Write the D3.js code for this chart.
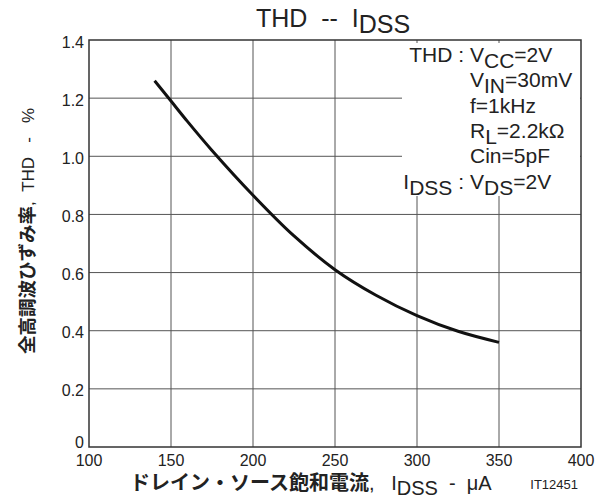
<!DOCTYPE html>
<html>
<head>
<meta charset="utf-8">
<script src="https://cdn.jsdelivr.net/npm/d3@7"></script>
<style>
body { margin: 0; background: #fff; }
svg text { font-family: "Liberation Sans", Arial, sans-serif; fill: #222; }
.jp { font-family: "Noto Sans CJK JP", sans-serif; font-weight: bold; }
</style>
</head>
<body>
<div id="chart"></div>
<script>
// 読み取った値
var idss = [140, 150, 160, 175, 200, 225, 250, 275, 300, 325, 350];
var thd  = [1.26, 1.19, 1.12, 1.02, 0.866, 0.726, 0.61, 0.522, 0.452, 0.398, 0.36];
var xTicks = [100, 150, 200, 250, 300, 350, 400];
var yTicks = [0, 0.2, 0.4, 0.6, 0.8, 1.0, 1.2, 1.4];
var yTickLabels = ["0", "0.2", "0.4", "0.6", "0.8", "1.0", "1.2", "1.4"];

var W = 604, H = 499;
var m = {left: 89, top: 40, right: 23, bottom: 52};
var w = W - m.left - m.right, h = H - m.top - m.bottom;

var svg = d3.select("#chart").append("svg")
	.attr("width", W).attr("height", H);

var x = d3.scaleLinear().domain([100, 400]).range([0, w]);
var y = d3.scaleLinear().domain([0, 1.4]).range([h, 0]);

var g = svg.append("g").attr("transform", "translate(" + m.left + "," + m.top + ")");

//グリッド
g.append("g").selectAll("line").data(xTicks.slice(1, -1)).enter()
	.append("line")
	.attr("x1", function(d) { return x(d); }).attr("x2", function(d) { return x(d); })
	.attr("y1", 0).attr("y2", h)
	.style("stroke", "#555").style("stroke-width", 1);
g.append("g").selectAll("line").data(yTicks.slice(1, -1)).enter()
	.append("line")
	.attr("y1", function(d) { return y(d); }).attr("y2", function(d) { return y(d); })
	.attr("x1", 0).attr("x2", w)
	.style("stroke", "#555").style("stroke-width", 1);

//曲線
var line = d3.line()
	.x(function(d) { return x(d[0]); })
	.y(function(d) { return y(d[1]); })
	.curve(d3.curveCatmullRom);
g.append("path")
	.datum(idss.map(function(v, i) { return [v, thd[i]]; }))
	.attr("d", line)
	.style("fill", "none").style("stroke", "#111").style("stroke-width", 3);

//条件ボックス（白地）
g.append("rect")
	.attr("x", 313).attr("y", 3).attr("width", w - 314).attr("height", 153)
	.style("fill", "#fff");

//枠
g.append("rect").attr("x", 0).attr("y", 0).attr("width", w).attr("height", h)
	.style("fill", "none").style("stroke", "#333").style("stroke-width", 1.5);

//目盛ラベル
g.append("g").selectAll("text").data(xTicks).enter()
	.append("text")
	.attr("x", function(d) { return x(d); })
	.attr("y", h + 19)
	.attr("text-anchor", "middle")
	.style("font-size", "16px")
	.text(function(d) { return d; });
g.append("g").selectAll("text").data(yTicks).enter()
	.append("text")
	.attr("x", -5)
	.attr("y", function(d, i) { return y(d) + (i === 0 ? -5 : 2); })
	.attr("dy", "0.35em")
	.attr("text-anchor", "end")
	.style("font-size", "16px")
	.text(function(d, i) { return yTickLabels[i]; });

//タイトル
var title = svg.append("text").attr("x", 333).attr("y", 27)
	.attr("text-anchor", "middle").style("font-size", "25px").attr("xml:space", "preserve");
title.append("tspan").text("THD  --  I");
title.append("tspan").attr("dy", 6).text("DSS");

//条件
function sub(t, parts) {
	parts.forEach(function(p) {
		var ts = t.append("tspan").text(p[0]);
		if (p[1]) ts.attr("dy", p[1]);
	});
}
var condLeft = [
	{y: 62, parts: [["THD :"]]},
	{y: 189, parts: [["I"], ["DSS", 6], [" :", -6]]}
];
var condRight = [
	{y: 62, parts: [["V"], ["CC", 6], ["=2V", -6]]},
	{y: 87, parts: [["V"], ["IN", 6], ["=30mV", -6]]},
	{y: 113, parts: [["f=1kHz"]]},
	{y: 138, parts: [["R"], ["L", 6], ["=2.2kΩ", -6]]},
	{y: 163, parts: [["Cin=5pF"]]},
	{y: 189, parts: [["V"], ["DS", 6], ["=2V", -6]]}
];
condLeft.forEach(function(c) {
	var t = svg.append("text").attr("x", 464).attr("y", c.y)
		.attr("text-anchor", "end").style("font-size", "21px").attr("xml:space", "preserve");
	sub(t, c.parts);
});
condRight.forEach(function(c) {
	var t = svg.append("text").attr("x", 470).attr("y", c.y)
		.style("font-size", "21px");
	sub(t, c.parts);
});

//x軸ラベル
var xl = svg.append("text").attr("x", 130).attr("y", 490).attr("xml:space", "preserve");
xl.append("tspan").attr("class", "jp").style("font-size", "20px").text("ドレイン・ソース飽和電流");
xl.append("tspan").style("font-size", "20px").text(",   I");
xl.append("tspan").style("font-size", "20px").attr("dy", 5).text("DSS");
xl.append("tspan").style("font-size", "20px").attr("dy", -5).text("  -  μA");
svg.append("text").attr("x", 578).attr("y", 489).attr("text-anchor", "end")
	.style("font-size", "13px").text("IT12451");

//y軸ラベル
var yl = svg.append("text")
	.attr("transform", "translate(34,354) rotate(-90)")
	.attr("xml:space", "preserve");
yl.append("tspan").attr("class", "jp").style("font-size", "18.5px").text("全高調波ひずみ率");
yl.append("tspan").style("font-size", "17px").text(",  THD   -   %");
</script>
</body>
</html>
